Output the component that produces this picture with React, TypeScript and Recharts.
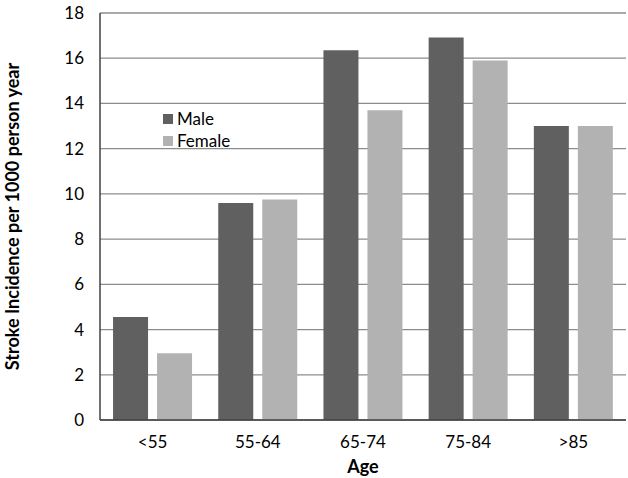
import { Bar, BarChart, CartesianGrid, XAxis, YAxis } from "recharts"

const ageGroups = ["<55", "55-64", "65-74", "75-84", ">85"]
const maleIncidence = [4.55, 9.6, 16.35, 16.92, 13.0]
const femaleIncidence = [2.95, 9.75, 13.7, 15.9, 13.0]
const yTicks = [0, 2, 4, 6, 8, 10, 12, 14, 16, 18]

const seriesColors = { Male: "#606060", Female: "#b2b2b2" }

const data = ageGroups.map((age, i) => ({
  age,
  Male: maleIncidence[i],
  Female: femaleIncidence[i],
}))

const font = "Lato, 'Open Sans', sans-serif"

function ChartLegend() {
  return (
    <div style={{ position: "absolute", left: 163, top: 108, fontSize: 17, lineHeight: "22px", color: "#000" }}>
      {Object.entries(seriesColors).map(([name, color]) => (
        <div key={name} style={{ display: "flex", alignItems: "center" }}>
          <span style={{ width: 10, height: 10, background: color, marginRight: 4, display: "inline-block" }} />
          {name}
        </div>
      ))}
    </div>
  )
}

function App() {
  return (
    <div style={{ position: "absolute", left: 0, top: 0, fontFamily: font }}>
      <BarChart
        width={628}
        height={478}
        data={data}
        margin={{ top: 13, right: 2, left: 0, bottom: 0 }}
        barCategoryGap="12.4%"
        barGap={9}
      >
        <CartesianGrid vertical={false} stroke="#8c8c8c" strokeWidth={1.3} />
        <XAxis
          dataKey="age"
          height={58}
          tickLine={false}
          axisLine={{ stroke: "#404040", strokeWidth: 1.5 }}
          tick={{ fill: "#000", fontSize: 17, fontFamily: font, dy: 8 }}
          label={{ value: "Age", position: "insideBottom", offset: 5, fill: "#000", fontSize: 18, fontWeight: "bold", fontFamily: font }}
        />
        <YAxis
          width={100}
          domain={[0, 18]}
          ticks={yTicks}
          interval={0}
          tickLine={false}
          axisLine={{ stroke: "#404040", strokeWidth: 1.5 }}
          tick={{ fill: "#000", fontSize: 17, fontFamily: font, dx: -8 }}
          label={{
            value: "Stroke Incidence per 1000 person year",
            angle: -90,
            position: "insideLeft",
            offset: 13,
            style: { textAnchor: "middle" },
            fill: "#000",
            fontSize: 18,
            fontWeight: "bold",
            fontFamily: font,
          }}
        />
        <Bar dataKey="Male" fill={seriesColors.Male} isAnimationActive={false} />
        <Bar dataKey="Female" fill={seriesColors.Female} isAnimationActive={false} />
      </BarChart>
      <ChartLegend />
    </div>
  )
}

export default App
